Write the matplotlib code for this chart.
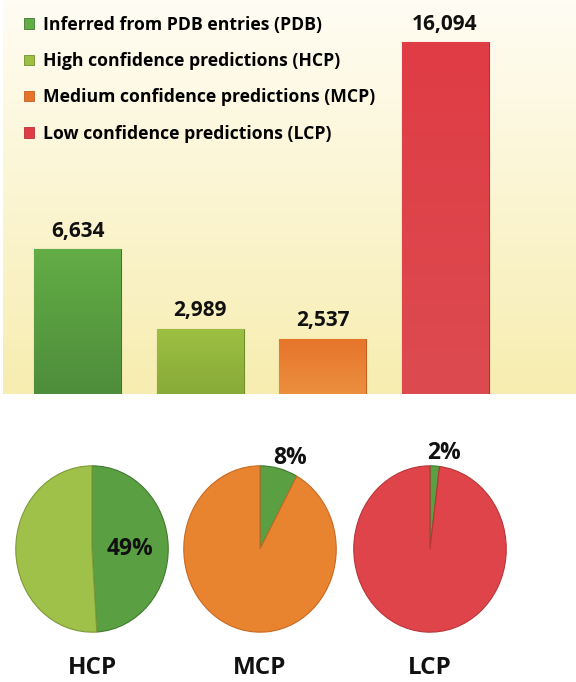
import numpy as np
import matplotlib
matplotlib.use("Agg")
import matplotlib.pyplot as plt
from matplotlib.colors import LinearSegmentedColormap

plt.rcParams['font.family'] = ['Open Sans', 'DejaVu Sans']
plt.rcParams['font.weight'] = 'bold'

# data
categories = ["PDB", "HCP", "MCP", "LCP"]
legend_labels = ["Inferred from PDB entries (PDB)",
                 "High confidence predictions (HCP)",
                 "Medium confidence predictions (MCP)",
                 "Low confidence predictions (LCP)"]
counts = [6634, 2989, 2537, 16094]
pie_names = ["HCP", "MCP", "LCP"]
pie_pdb_share = [49, 8, 2]   # % of the class inferred from PDB

# top / bottom shades for each category
col_top = ['#63ad46', '#9dc042', '#e6742a', '#e03c45']
col_bot = ['#4e8d3b', '#88aa38', '#ec8f3e', '#dc4b50']
col_edge = ['#3f7a30', '#6f8f2c', '#c2601e', '#b83035']

W, H = 576, 682
fig = plt.figure(figsize=(W / 100, H / 100), dpi=100)

def px_rect(x0, y0, x1, y1):
    return [x0 / W, 1 - y1 / H, (x1 - x0) / W, (y1 - y0) / H]

# background gradient behind the bars
bg = fig.add_axes(px_rect(3, 0, W, 394))
bg.imshow(np.linspace(0, 1, 256).reshape(-1, 1), aspect='auto', extent=[0, 1, 0, 1],
          cmap=LinearSegmentedColormap.from_list('bg', ['#fffdf4', '#f7edb0']))
bg.axis('off')

# bars
ax = fig.add_axes(px_rect(0, 0, W, 394))
ax.patch.set_alpha(0)
x = np.arange(len(counts))
bars = ax.bar(x, counts, width=0.71, color=col_top, edgecolor=col_edge, linewidth=0.8,
              zorder=2)
for b, ct, cb in zip(bars, col_top, col_bot):
    cm = LinearSegmentedColormap.from_list('g', [cb, ct])
    x0, y0 = b.get_x(), b.get_y()
    im = ax.imshow(np.linspace(0, 1, 128).reshape(-1, 1), origin='lower', aspect='auto',
                   cmap=cm, extent=[x0, x0 + b.get_width(), y0, y0 + b.get_height()], zorder=2.5)
    im.set_clip_path(b)
ax.set_xlim(-0.633, 4.069)
ax.set_ylim(0, 16094 * 394 / 352)
for b, v in zip(bars, counts):
    ax.text(b.get_x() + b.get_width() / 2, v + 330, f"{v:,}", ha='center', va='bottom',
            fontsize=15, fontweight='bold', color='#111111')
ax.axis('off')

handles = [plt.Rectangle((0, 0), 1, 1, facecolor=c, edgecolor=e, linewidth=0.6)
           for c, e in zip(col_top, col_edge)]
ax.legend(handles, legend_labels, loc='upper left', bbox_to_anchor=(0.03, 0.978),
          frameon=False, handlelength=0.55, handleheight=0.55,
          handletextpad=0.5, labelspacing=1.04, borderaxespad=0,
          prop={'weight': 'bold', 'size': 12.7})

# pies
pie_cx = [92, 260, 430]
pie_main = ['#9fc049', '#e8832f', '#de444a']
pie_main_edge = ['#7f9a38', '#c96a22', '#b83538']
lbl_pos = [(0.5, 0.0), (0.4, 1.1), (0.19, 1.15)]
for cx, name, share, mc, me, lp in zip(pie_cx, pie_names, pie_pdb_share, pie_main,
                                       pie_main_edge, lbl_pos):
    pa = fig.add_axes(px_rect(cx - 77, 465, cx + 77, 633))
    wedges, _ = pa.pie([share, 100 - share], colors=['#5aa043', mc], startangle=90,
                       counterclock=False, radius=1,
                       wedgeprops=dict(edgecolor=me, linewidth=0.8))
    wedges[0].set_edgecolor('#3f7a30')
    pa.set_aspect('auto')
    pa.set_xlim(-1.01, 1.01)
    pa.set_ylim(-1.01, 1.01)
    pa.text(lp[0], lp[1], f"{share}%", ha='center', va='center', fontsize=16.5,
            fontweight='bold', color='#111111', clip_on=False)
    fig.text(cx / W, 1 - 668 / H, name, ha='center', va='center', fontsize=17.5,
             fontweight='bold', color='#111111')

fig.savefig("out.png", dpi=100)
